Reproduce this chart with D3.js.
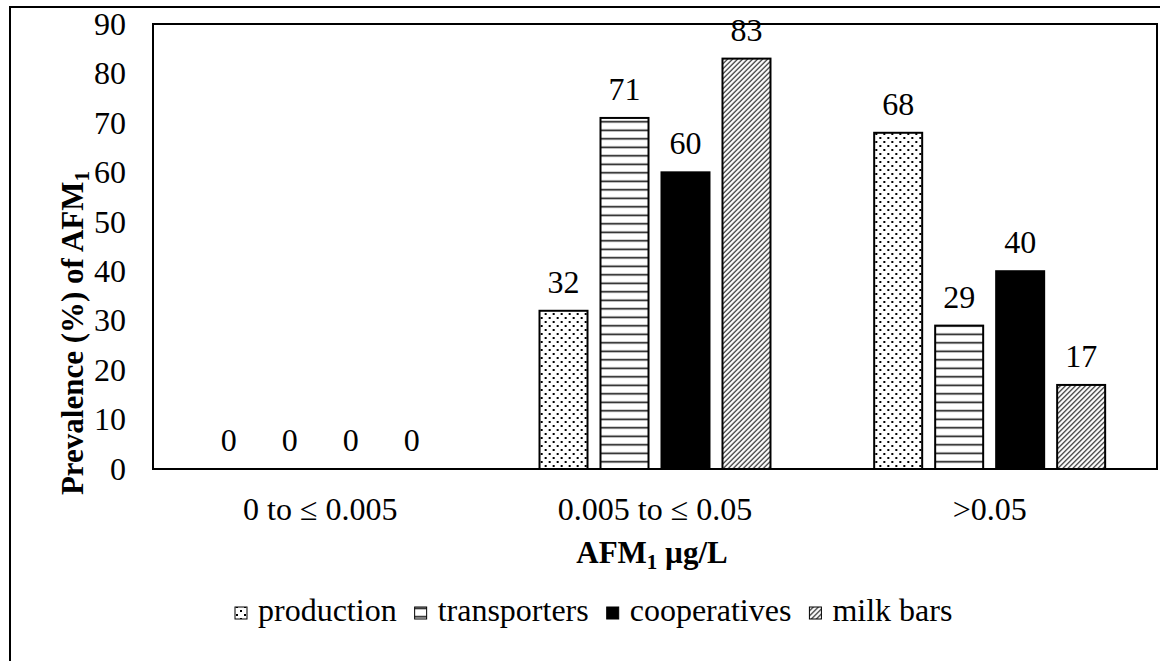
<!DOCTYPE html>
<html>
<head>
<meta charset="utf-8">
<script src="https://cdn.jsdelivr.net/npm/d3@7"></script>
<style>
  body { margin: 0; background: #fff; }
  text { font-family: "Liberation Serif", "Times New Roman", serif; fill: #000; }
</style>
</head>
<body>
<div id="chart"></div>
<script>
// Prevalence of AFM1 by concentration range

var categories = ["0 to \u2264 0.005", "0.005 to \u2264 0.05", ">0.05"];
var seriesNames = ["production", "transporters", "cooperatives", "milk bars"];
var production = [0, 32, 68];
var transporters = [0, 71, 29];
var cooperatives = [0, 60, 40];
var milkBars = [0, 83, 17];
var yTicks = [0, 10, 20, 30, 40, 50, 60, 70, 80, 90];

var seriesValues = [production, transporters, cooperatives, milkBars];

var svgWidth = 1160;
var svgHeight = 661;
var margin = {top: 24, right: 3, bottom: 192, left: 153};
var width = svgWidth - margin.left - margin.right;
var height = svgHeight - margin.top - margin.bottom;
var fontSize = "32px";

var svg = d3.select("#chart")
  .append("svg")
  .attr("width", svgWidth)
  .attr("height", svgHeight);

// fill patterns
var defs = svg.append("defs");

var dots = defs.append("pattern")
  .attr("id", "pat-production")
  .attr("patternUnits", "userSpaceOnUse")
  .attr("width", 8).attr("height", 8);
dots.append("rect").attr("width", 8).attr("height", 8).attr("fill", "#fff");
dots.append("rect").attr("x", 1).attr("y", 1).attr("width", 2).attr("height", 2).attr("fill", "#000");
dots.append("rect").attr("x", 5).attr("y", 5).attr("width", 2).attr("height", 2).attr("fill", "#000");

var hlines = defs.append("pattern")
  .attr("id", "pat-transporters")
  .attr("patternUnits", "userSpaceOnUse")
  .attr("width", 8).attr("height", 8.5);
hlines.append("rect").attr("width", 8).attr("height", 8.5).attr("fill", "#fff");
hlines.append("rect").attr("x", 0).attr("y", 3.5).attr("width", 8).attr("height", 1.6).attr("fill", "#111");

var diag = defs.append("pattern")
  .attr("id", "pat-milk")
  .attr("patternUnits", "userSpaceOnUse")
  .attr("width", 5).attr("height", 5);
diag.append("rect").attr("width", 5).attr("height", 5).attr("fill", "#fff");
diag.append("path").attr("d", "M-1,6 L6,-1 M-1,1 L1,-1 M4,6 L6,4")
  .attr("stroke", "#111").attr("stroke-width", 1.1);

var fills = ["url(#pat-production)", "url(#pat-transporters)", "#000", "url(#pat-milk)"];

// outer frame
svg.append("rect")
  .attr("x", 10).attr("y", 7)
  .attr("width", 1170).attr("height", 680)
  .attr("fill", "none").attr("stroke", "#000").attr("stroke-width", 2);

var chartGroup = svg.append("g")
  .attr("transform", `translate(${margin.left}, ${margin.top})`);

// scales
var x0 = d3.scaleBand().domain(categories).range([0, width]);
var x1 = d3.scaleBand().domain(seriesNames).range([0, x0.bandwidth()])
  .paddingInner(0.213).paddingOuter(0.85);
var y = d3.scaleLinear().domain([0, 90]).range([height, 0]);

// y axis labels
var leftAxis = d3.axisLeft(y).tickValues(yTicks).tickSize(0).tickPadding(27);
var yAxis = chartGroup.append("g").call(leftAxis);
yAxis.select(".domain").remove();
yAxis.selectAll("text")
  .style("font-family", "Liberation Serif")
  .style("font-size", fontSize)
  .attr("fill", "#000");

// x axis labels
var bottomAxis = d3.axisBottom(x0).tickSize(0).tickPadding(28);
var xAxis = chartGroup.append("g")
  .attr("transform", `translate(0, ${height})`)
  .call(bottomAxis);
xAxis.select(".domain").remove();
xAxis.selectAll("text")
  .style("font-family", "Liberation Serif")
  .style("font-size", fontSize)
  .attr("fill", "#000");

// bars
var groups = chartGroup.selectAll(".group")
  .data(categories)
  .enter()
  .append("g")
  .attr("class", "group")
  .attr("transform", d => `translate(${x0(d)}, 0)`);

var barData = function(cat, i) {
  return seriesNames.map((s, j) => ({series: s, idx: j, value: seriesValues[j][i]}));
};

groups.selectAll("rect")
  .data((d, i) => barData(d, i))
  .enter()
  .append("rect")
  .attr("x", d => x1(d.series))
  .attr("y", d => y(d.value))
  .attr("width", x1.bandwidth())
  .attr("height", d => height - y(d.value))
  .attr("fill", d => fills[d.idx])
  .attr("stroke", "#000")
  .attr("stroke-width", 2);

// value labels
groups.selectAll(".val")
  .data((d, i) => barData(d, i))
  .enter()
  .append("text")
  .attr("class", "val")
  .attr("x", d => x1(d.series) + x1.bandwidth() / 2)
  .attr("y", d => y(d.value) - 18)
  .attr("text-anchor", "middle")
  .style("font-size", fontSize)
  .text(d => d.value);

// plot border
chartGroup.append("rect")
  .attr("x", 0).attr("y", 0)
  .attr("width", width).attr("height", height)
  .attr("fill", "none").attr("stroke", "#000").attr("stroke-width", 2);

// x axis title
var xTitle = chartGroup.append("text")
  .attr("x", width / 2 - 3)
  .attr("y", height + 94)
  .attr("text-anchor", "middle")
  .style("font-size", "31px")
  .style("font-weight", "bold");
xTitle.append("tspan").text("AFM");
xTitle.append("tspan").attr("dy", 6).style("font-size", "21px").text("1");
xTitle.append("tspan").attr("dy", -6).text(" \u00b5g/L");

// y axis title
var yTitle = svg.append("text")
  .attr("transform", "translate(83, 333) rotate(-90)")
  .attr("text-anchor", "middle")
  .style("font-size", "31px")
  .style("font-weight", "bold");
yTitle.append("tspan").text("Prevalence (%) of AFM");
yTitle.append("tspan").attr("dy", 6).style("font-size", "21px").text("1");

// legend
var legend = svg.append("g").attr("transform", "translate(235, 621)");
var lx = 0;
seriesNames.forEach(function(name, i) {
  var item = legend.append("g").attr("transform", `translate(${lx}, 0)`);
  item.append("rect")
    .attr("x", 0).attr("y", -14)
    .attr("width", 12).attr("height", 12)
    .attr("fill", fills[i])
    .attr("stroke", "#000").attr("stroke-width", 1);
  var t = item.append("text")
    .attr("x", 23)
    .attr("y", 0)
    .style("font-size", fontSize)
    .text(name);
  lx += 23 + t.node().getComputedTextLength() + 18;
});
</script>
</body>
</html>
